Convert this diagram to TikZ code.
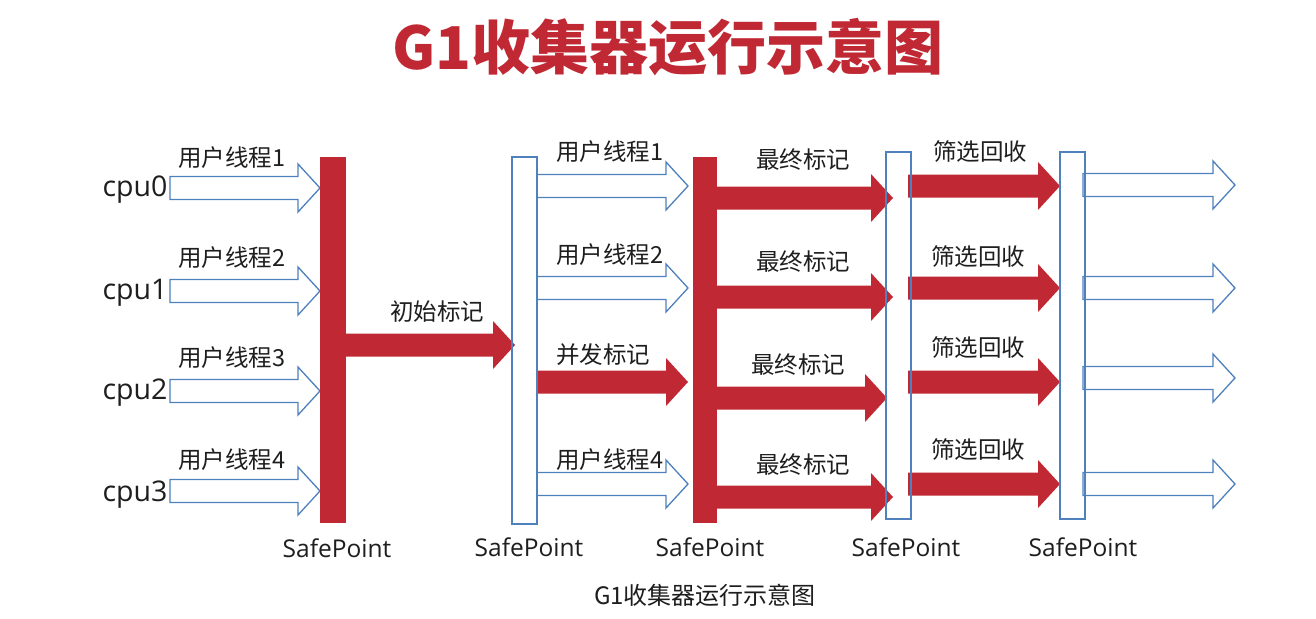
\documentclass[tikz,border=0pt]{standalone}
\usepackage{fontspec}
\setmainfont{Open Sans}
\newfontfamily\cjk{Noto Sans CJK SC}
\definecolor{gred}{RGB}{192,40,52}
\definecolor{gblue}{RGB}{79,129,189}
\definecolor{ink}{RGB}{30,30,30}
\tikzset{
  redfill/.style={fill=gred, draw=none},
  hollow/.style={fill=white, draw=gblue, line width=1.3pt, line join=miter},
  spbar/.style={draw=gblue, line width=1.3pt, fill=none, inner sep=0, outer sep=0},
  redbar/.style={fill=gred, draw=none, inner sep=0, outer sep=0},
  lbl/.style={font=\cjk\fontsize{23.5}{26}\selectfont, text=ink, inner sep=0},
  cpulbl/.style={font=\fontsize{28.5}{30}\selectfont, text=ink, inner sep=0},
  splbl/.style={font=\fontsize{24.5}{28}\selectfont, text=ink, inner sep=0},
}
% #1 style, #2 start x, #3 tip x, #4 centre y
\newcommand\blockarrow[4]{%
  \path[#1] (#2,#4-11.5) -- (#3-22,#4-11.5) -- (#3-22,#4-24) -- (#3,#4)
    -- (#3-22,#4+24) -- (#3-22,#4+11.5) -- (#2,#4+11.5) -- cycle;}
\begin{document}
\begin{tikzpicture}[x=1pt,y=-1pt]
\useasboundingbox[fill=white] (0,0) rectangle (1316,618);

% title
\node[font=\cjk\bfseries\fontsize{59}{62}\selectfont, text=gred, inner sep=0] (title) at (668,47) {G1收集器运行示意图};

% column 1: user threads
\foreach \y in {188,291,391,491} { \blockarrow{hollow}{170}{320}{\y} }
\node[cpulbl] (cpu0) at (135,190) {cpu0};
\node[cpulbl] (cpu1) at (135,293) {cpu1};
\node[cpulbl] (cpu2) at (135,393) {cpu2};
\node[cpulbl] (cpu3) at (135,495) {cpu3};
\node[lbl] (u1a) at (232,158) {用户线程1};
\node[lbl] (u2a) at (232,258) {用户线程2};
\node[lbl] (u3a) at (232,358) {用户线程3};
\node[lbl] (u4a) at (232,460) {用户线程4};

% safepoint 1 (red bar) with initial mark
\node[redbar, minimum width=26, minimum height=366] (bar1) at (333,340) {};
\blockarrow{redfill}{340}{515}{345}
\node[lbl] (init) at (437,312) {初始标记};

% column 2
\blockarrow{hollow}{537}{688}{186}
\blockarrow{hollow}{537}{688}{288}
\blockarrow{redfill}{537}{688}{382}
\blockarrow{hollow}{537}{688}{484}
\node[lbl] (u1b) at (610,152) {用户线程1};
\node[lbl] (u2b) at (610,255) {用户线程2};
\node[lbl] (conc) at (603,355) {并发标记};
\node[lbl] (u4b) at (610,460) {用户线程4};

% safepoint 3 (red bar) with final marks
\node[redbar, minimum width=24, minimum height=366] (bar3) at (705,340) {};
\blockarrow{redfill}{710}{893}{198}
\blockarrow{redfill}{710}{893}{297}
\blockarrow{redfill}{710}{887}{398}
\blockarrow{redfill}{710}{893}{497}
\node[lbl] (f1) at (803,160) {最终标记};
\node[lbl] (f2) at (803,262) {最终标记};
\node[lbl] (f3) at (798,365) {最终标记};
\node[lbl] (f4) at (803,465) {最终标记};

% column 4: evacuation
\blockarrow{redfill}{908}{1060}{186}
\blockarrow{redfill}{908}{1060}{288}
\blockarrow{redfill}{908}{1060}{382}
\blockarrow{redfill}{908}{1060}{484}
\node[lbl] (e1) at (980,152) {筛选回收};
\node[lbl] (e2) at (978,257) {筛选回收};
\node[lbl] (e3) at (978,348) {筛选回收};
\node[lbl] (e4) at (978,450) {筛选回收};

% column 5
\blockarrow{hollow}{1083}{1235}{185}
\blockarrow{hollow}{1083}{1235}{288}
\blockarrow{hollow}{1083}{1235}{378}
\blockarrow{hollow}{1083}{1235}{484}

% hollow safepoint bars
\node[spbar, minimum width=25, minimum height=367] (bar2) at (524.5,340.5) {};
\node[spbar, minimum width=25, minimum height=367] (bar4) at (898.5,335.5) {};
\node[spbar, minimum width=25, minimum height=367] (bar5) at (1072.5,335.5) {};

% safepoint labels
\node[splbl] (sp1) at (337,548) {SafePoint};
\node[splbl] (sp2) at (529,547) {SafePoint};
\node[splbl] (sp3) at (710,547) {SafePoint};
\node[splbl] (sp4) at (906,547) {SafePoint};
\node[splbl] (sp5) at (1083,547) {SafePoint};

% caption
\node[font=\cjk\fontsize{24}{26}\selectfont, text=ink, inner sep=0] (cap) at (705,595) {G1收集器运行示意图};
\end{tikzpicture}
\end{document}
